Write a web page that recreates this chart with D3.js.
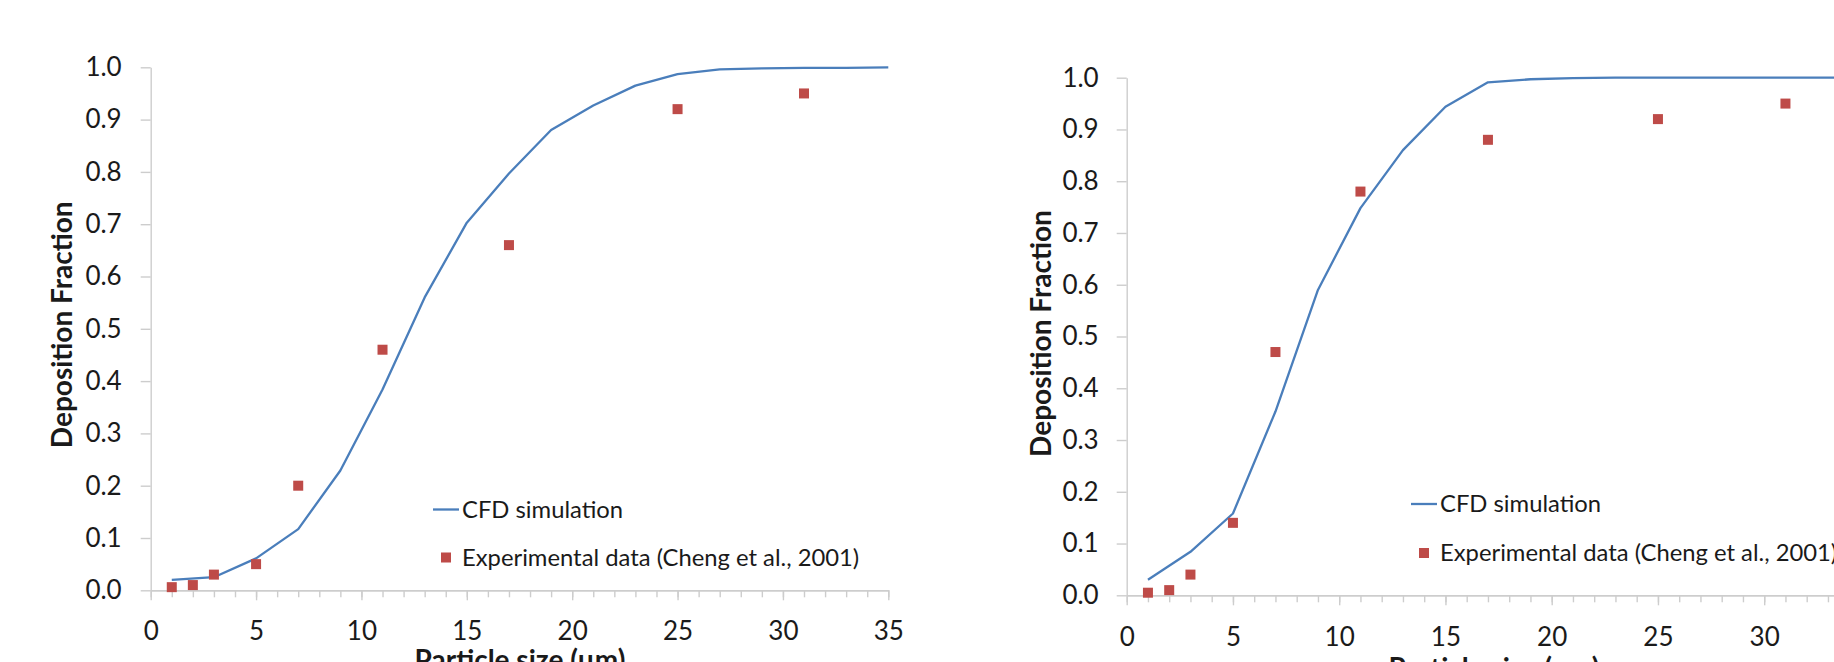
<!DOCTYPE html>
<html>
<head>
<meta charset="utf-8">
<script src="https://cdn.jsdelivr.net/npm/d3@7/dist/d3.min.js"></script>
<style>
  html, body { margin: 0; padding: 0; background: #fff; }
  svg { display: block; }
</style>
</head>
<body>
<svg id="chart" width="1834" height="662"></svg>
<script>
// ---- data ----
const expX = [1, 2, 3, 5, 7, 11, 17, 25, 31];
const expLeft = [0.006, 0.010, 0.030, 0.050, 0.200, 0.460, 0.660, 0.920, 0.950];
const expRight = [0.005, 0.010, 0.040, 0.140, 0.470, 0.780, 0.880, 0.920, 0.950];
const cfdX = [1, 3, 5, 7, 9, 11, 13, 15, 17, 19, 21, 23, 25, 27, 29, 31, 33, 35];
const cfdLeft = [0.020, 0.025, 0.061, 0.117, 0.229, 0.384, 0.560, 0.703, 0.797, 0.880, 0.927, 0.965, 0.987, 0.996, 0.998, 0.999, 0.999, 1.000];
const cfdRight = [0.030, 0.084, 0.158, 0.355, 0.590, 0.748, 0.860, 0.944, 0.991, 0.997, 0.999, 1.000, 1.000, 1.000, 1.000, 1.000, 1.000, 1.000];
const yTicks = [0, 0.1, 0.2, 0.3, 0.4, 0.5, 0.6, 0.7, 0.8, 0.9, 1.0];
const xMajorTicks = [0, 5, 10, 15, 20, 25, 30, 35];
const xMinorTicks = d3.range(0, 36, 1);
const legendLabels = ["CFD simulation", "Experimental data (Cheng et al., 2001)"];
const yTitle = "Deposition Fraction";
const xTitle = "Particle size (\u03bcm)";

const FONT = "Lato, 'Open Sans', sans-serif";
const LINE_COLOR = "#4A7EBB";
const MARK_COLOR = "#BE4B48";
const AXIS_COLOR = "#cdcdcd";
const TEXT_COLOR = "#1a1a1a";

const svg = d3.select("#chart");

function panel(cfg) {
  const x = d3.scaleLinear().domain([0, 35]).range([cfg.x0, cfg.x1]);
  const y = d3.scaleLinear().domain([0, 1]).range([cfg.yBottom, cfg.yTop]);
  const g = svg.append("g");

  // y axis
  const ya = g.append("g").attr("transform", `translate(${cfg.x0},0)`)
    .call(d3.axisLeft(y).tickValues(yTicks).tickFormat(d3.format(".1f"))
      .tickSize(10).tickSizeOuter(0).tickPadding(cfg.yPad));
  // x minor ticks
  const xm = g.append("g").attr("transform", `translate(0,${cfg.yBottom})`)
    .call(d3.axisBottom(x).tickValues(xMinorTicks).tickFormat("").tickSize(7).tickSizeOuter(0));
  // x major
  const xa = g.append("g").attr("transform", `translate(0,${cfg.yBottom})`)
    .call(d3.axisBottom(x).tickValues(xMajorTicks).tickFormat(d3.format("d"))
      .tickSize(10).tickSizeOuter(0).tickPadding(cfg.xPad));

  [ya, xm, xa].forEach(a => {
    a.selectAll("path.domain").attr("stroke", AXIS_COLOR).attr("stroke-width", 1.4);
    a.selectAll(".tick line").attr("stroke", AXIS_COLOR).attr("stroke-width", 1.4);
    a.selectAll(".tick text").attr("fill", TEXT_COLOR)
      .style("font-family", FONT).style("font-size", cfg.tickFont + "px");
  });
  xa.selectAll(".tick text").attr("dy", "0.71em");

  // CFD line
  const line = d3.line().x((d, i) => x(cfdX[i])).y(d => y(d));
  g.append("path").datum(cfg.cfd)
    .attr("fill", "none").attr("stroke", LINE_COLOR).attr("stroke-width", 2.3)
    .attr("stroke-linejoin", "round")
    .attr("d", line);

  // experimental markers
  const ms = 10;
  g.selectAll("rect.exp").data(cfg.exp).enter().append("rect")
    .attr("class", "exp")
    .attr("x", (d, i) => x(expX[i]) - ms / 2)
    .attr("y", d => y(d) - ms / 2)
    .attr("width", ms).attr("height", ms)
    .attr("fill", MARK_COLOR);

  // legend
  const lg = g.append("g");
  lg.append("line")
    .attr("x1", cfg.legX).attr("x2", cfg.legX + 26)
    .attr("y1", cfg.legY1).attr("y2", cfg.legY1)
    .attr("stroke", LINE_COLOR).attr("stroke-width", 2.3);
  lg.append("text").attr("x", cfg.legX + 29).attr("y", cfg.legY1)
    .attr("dy", "0.35em")
    .style("font-family", FONT).style("font-size", cfg.legFont + "px").attr("fill", TEXT_COLOR)
    .text(legendLabels[0]);
  lg.append("rect")
    .attr("x", cfg.legX + 13 - 5).attr("y", cfg.legY2 - 5)
    .attr("width", 10).attr("height", 10).attr("fill", MARK_COLOR);
  lg.append("text").attr("x", cfg.legX + 29).attr("y", cfg.legY2)
    .attr("dy", "0.35em")
    .style("font-family", FONT).style("font-size", cfg.legFont + "px").attr("fill", TEXT_COLOR)
    .text(legendLabels[1]);

  // y title
  g.append("text")
    .attr("transform", `translate(${cfg.yTitleX},${(cfg.yTop + cfg.yBottom) / 2 + cfg.yTitleShift}) rotate(-90)`)
    .attr("text-anchor", "middle")
    .style("font-family", FONT).style("font-weight", "bold").style("font-size", cfg.titleFont + "px")
    .attr("fill", TEXT_COLOR)
    .text(yTitle);

  // x title
  g.append("text")
    .attr("x", cfg.xTitleX).attr("y", cfg.xTitleY)
    .attr("text-anchor", "middle")
    .style("font-family", FONT).style("font-weight", "bold").style("font-size", cfg.titleFont + "px")
    .attr("fill", TEXT_COLOR)
    .text(xTitle);
}

panel({
  x0: 150.7, x1: 888.3, yTop: 67.3, yBottom: 590.3,
  cfd: cfdLeft, exp: expLeft,
  yPad: 19, xPad: 21, tickFont: 26, legFont: 23.8, titleFont: 28,
  legX: 433, legY1: 509.5, legY2: 557.5,
  yTitleX: 72, yTitleShift: -4,
  xTitleX: 520, xTitleY: 670
});

panel({
  x0: 1126.7, x1: 1126.7 + 35 * 21.25, yTop: 77.7, yBottom: 595.3,
  cfd: cfdRight, exp: expRight,
  yPad: 18, xPad: 22, tickFont: 26, legFont: 23.8, titleFont: 28,
  legX: 1411, legY1: 504, legY2: 553,
  yTitleX: 1051, yTitleShift: -3,
  xTitleX: 1494, xTitleY: 678
});
</script>
</body>
</html>
